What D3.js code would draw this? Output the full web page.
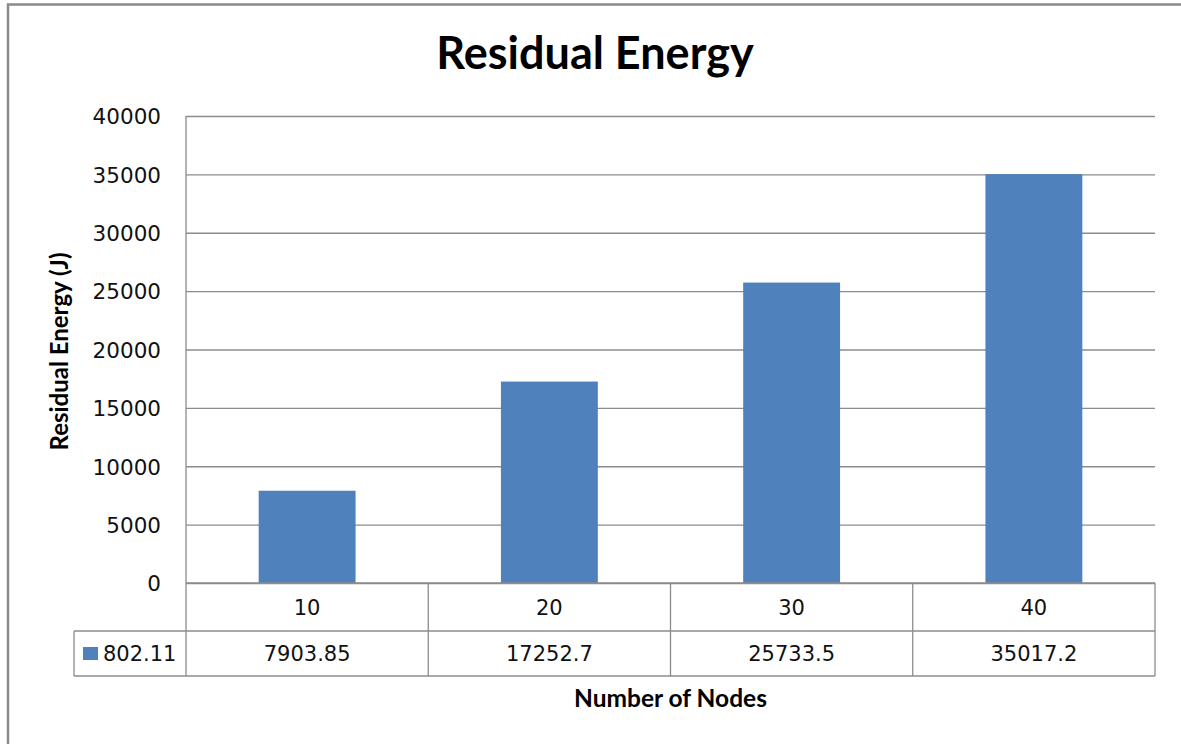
<!DOCTYPE html>
<html>
<head>
<meta charset="utf-8">
<script src="https://cdn.jsdelivr.net/npm/d3@7"></script>
<style>
  html, body { margin: 0; padding: 0; background: #fff; overflow: hidden; }
  svg { display: block; }
</style>
</head>
<body>
<svg id="chart" width="1181" height="744"></svg>
<script>
const categories = ["10", "20", "30", "40"];
const values = [7903.85, 17252.7, 25733.5, 35017.2];
const seriesName = "802.11";
const yTicks = [0, 5000, 10000, 15000, 20000, 25000, 30000, 35000, 40000];
const title = "Residual Energy";
const yTitle = "Residual Energy (J)";
const xTitle = "Number of Nodes";

const svg = d3.select("#chart");
const W = 1181, H = 744;
const plot = { left: 186, right: 1155, top: 116, bottom: 583 };
const row1 = 631, row2 = 676, legendLeft = 74;
const grid = "#8c8c8c";
const numFont = "'DejaVu Sans', Verdana, sans-serif";
const lblFont = "Lato, 'Open Sans', sans-serif";

svg.append("rect").attr("width", W).attr("height", H).attr("fill", "#fff");

// outer chart border (top and left edges visible only)
svg.append("path")
  .attr("d", `M8,${H} L8,4.5 L${W},4.5`)
  .attr("fill", "none").attr("stroke", "#8a8a8a").attr("stroke-width", 2.5);

const x = d3.scaleBand().domain(categories).range([plot.left, plot.right]).paddingInner(0).paddingOuter(0);
const y = d3.scaleLinear().domain([0, 40000]).range([plot.bottom, plot.top]);

// gridlines + y labels via axis
const yAxis = d3.axisLeft(y).tickValues(yTicks).tickSize(-(plot.right - plot.left)).tickPadding(25).tickFormat(d3.format("d"));
const gy = svg.append("g").attr("transform", `translate(${plot.left},0)`).call(yAxis);
gy.select(".domain").remove();
gy.selectAll(".tick line").attr("stroke", grid).attr("stroke-width", 1.3);
gy.selectAll(".tick text")
  .attr("font-family", numFont).attr("font-size", 21.5).attr("fill", "#111")
  .attr("dy", "0.36em");

// bars
const barW = x.bandwidth() * 0.4;
svg.append("g").selectAll("rect").data(values).join("rect")
  .attr("x", (d, i) => x(categories[i]) + (x.bandwidth() - barW) / 2)
  .attr("y", d => y(d))
  .attr("width", barW)
  .attr("height", d => y(0) - y(d))
  .attr("fill", "#4f81bd");

// data table
const tg = svg.append("g").attr("stroke", grid).attr("stroke-width", 1.3).attr("fill", "none");
tg.append("line").attr("x1", plot.left).attr("x2", plot.left).attr("y1", plot.top).attr("y2", row2);
tg.append("line").attr("x1", plot.left).attr("x2", plot.right).attr("y1", plot.bottom).attr("y2", plot.bottom);
tg.append("line").attr("x1", legendLeft).attr("x2", plot.right).attr("y1", row1).attr("y2", row1);
tg.append("line").attr("x1", legendLeft).attr("x2", plot.right).attr("y1", row2).attr("y2", row2);
tg.append("line").attr("x1", legendLeft).attr("x2", legendLeft).attr("y1", row1).attr("y2", row2);
categories.forEach((c, i) => {
  const xr = x(c) + x.bandwidth();
  tg.append("line").attr("x1", xr).attr("x2", xr).attr("y1", plot.bottom).attr("y2", row2);
});

const txt = svg.append("g").attr("font-family", numFont).attr("font-size", 21).attr("fill", "#111").attr("text-anchor", "middle");
categories.forEach((c, i) => {
  const cx = x(c) + x.bandwidth() / 2;
  txt.append("text").attr("x", cx).attr("y", (plot.bottom + row1) / 2).attr("dy", "0.36em").text(c);
  txt.append("text").attr("x", cx).attr("y", (row1 + row2) / 2).attr("dy", "0.36em").text(String(values[i]));
});

// legend key
svg.append("rect").attr("x", 83).attr("y", 647).attr("width", 15).attr("height", 13).attr("fill", "#4f81bd");
txt.append("text").attr("x", 103).attr("y", (row1 + row2) / 2).attr("dy", "0.36em")
  .attr("text-anchor", "start").text(seriesName);

// titles
svg.append("text").attr("x", 595).attr("y", 69)
  .attr("text-anchor", "middle").attr("font-family", lblFont).attr("font-weight", "bold")
  .attr("font-size", 45).attr("fill", "#000").text(title);

svg.append("text")
  .attr("transform", `translate(68,${(plot.top + plot.bottom) / 2 + 2}) rotate(-90)`)
  .attr("text-anchor", "middle").attr("font-family", lblFont).attr("font-weight", "bold")
  .attr("font-size", 24).attr("fill", "#000").text(yTitle);

svg.append("text").attr("x", (plot.left + plot.right) / 2).attr("y", 707)
  .attr("text-anchor", "middle").attr("font-family", lblFont).attr("font-weight", "bold")
  .attr("font-size", 24.5).attr("fill", "#000").text(xTitle);
</script>
</body>
</html>
